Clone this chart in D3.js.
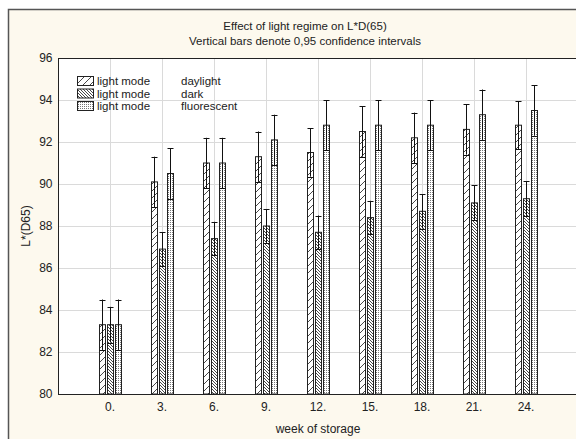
<!DOCTYPE html>
<html>
<head>
<meta charset="utf-8">
<script src="https://cdn.jsdelivr.net/npm/d3@7"></script>
<style>
  body { margin: 0; background: #fff; }
  svg { display: block; font-family: "Liberation Sans", Arial, sans-serif; }
</style>
</head>
<body>
<svg id="chart" width="576" height="439"></svg>
<script>
// week labels and light modes
const weeks = ["0.", "3.", "6.", "9.", "12.", "15.", "18.", "21.", "24."];
const modes = ["daylight", "dark", "fluorescent"];

// means
const daylightMean    = [83.3, 90.1, 91.0, 91.3, 91.5, 92.5, 92.2, 92.6, 92.8];
const darkMean        = [83.3, 86.9, 87.4, 88.0, 87.7, 88.4, 88.7, 89.1, 89.3];
const fluorescentMean = [83.3, 90.5, 91.0, 92.1, 92.8, 92.8, 92.8, 93.3, 93.5];

// half width of the 0,95 confidence interval
const daylightCI    = [1.2, 1.2, 1.2, 1.2, 1.15, 1.2, 1.2, 1.2, 1.15];
const darkCI        = [0.85, 0.8, 0.8, 0.8, 0.8, 0.8, 0.82, 0.83, 0.82];
const fluorescentCI = [1.2, 1.2, 1.2, 1.2, 1.2, 1.2, 1.2, 1.2, 1.2];

const yTicks = [80, 82, 84, 86, 88, 90, 92, 94, 96];

const means = { daylight: daylightMean, dark: darkMean, fluorescent: fluorescentMean };
const cis = { daylight: daylightCI, dark: darkCI, fluorescent: fluorescentCI };

const svg = d3.select("#chart");
const W = 576, H = 439;
const plot = { left: 58, top: 58, right: 578, bottom: 394 };

// patterns
const defs = svg.append("defs");
const pDay = defs.append("pattern").attr("id", "p-daylight")
  .attr("patternUnits", "userSpaceOnUse").attr("width", 7).attr("height", 7);
pDay.append("rect").attr("width", 7).attr("height", 7).attr("fill", "#fff");
pDay.append("path").attr("d", "M0,7L7,0M-1,1L1,-1M6,8L8,6")
  .attr("stroke", "#333").attr("stroke-width", 0.9);

const pDark = defs.append("pattern").attr("id", "p-dark")
  .attr("patternUnits", "userSpaceOnUse").attr("width", 3).attr("height", 3);
pDark.append("rect").attr("width", 3).attr("height", 3).attr("fill", "#fff");
pDark.append("path").attr("d", "M0,0L3,3M-1,2L1,4M2,-1L4,1")
  .attr("stroke", "#333").attr("stroke-width", 0.9);

const pFl = defs.append("pattern").attr("id", "p-fluorescent")
  .attr("patternUnits", "userSpaceOnUse").attr("width", 2).attr("height", 2);
pFl.append("rect").attr("width", 2).attr("height", 2).attr("fill", "#fff");
pFl.append("rect").attr("width", 1).attr("height", 1).attr("fill", "#777");

// background and frame
svg.append("rect").attr("x", 8).attr("y", 9).attr("width", W).attr("height", H)
  .attr("fill", "#fdf9ee");
svg.append("path").attr("d", `M8.5,${H}V9.5H${W}`)
  .attr("fill", "none").attr("stroke", "#555").attr("stroke-width", 1.5);

svg.append("rect")
  .attr("x", plot.left).attr("y", plot.top)
  .attr("width", plot.right - plot.left).attr("height", plot.bottom - plot.top)
  .attr("fill", "#fff");

const x = d3.scaleBand().domain(weeks).range([plot.left, plot.right]).paddingOuter(0.5);
const xm = d3.scaleBand().domain(modes).range([-11, 11]).paddingInner(0.22);
const y = d3.scaleLinear().domain([80, 96]).range([plot.bottom, plot.top]);

// grid
svg.append("g").selectAll("line").data(yTicks.slice(1, -1)).join("line")
  .attr("x1", plot.left).attr("x2", plot.right)
  .attr("y1", d => Math.round(y(d)) + 0.5).attr("y2", d => Math.round(y(d)) + 0.5)
  .attr("stroke", "#dadada");
svg.append("g").selectAll("line").data(weeks).join("line")
  .attr("x1", d => Math.round(x(d) + x.bandwidth() / 2) + 0.5)
  .attr("x2", d => Math.round(x(d) + x.bandwidth() / 2) + 0.5)
  .attr("y1", plot.top).attr("y2", plot.bottom)
  .attr("stroke", "#dadada");

// bars
const rows = [];
weeks.forEach((w, i) => modes.forEach(m => rows.push({ w, m, v: means[m][i], ci: cis[m][i] })));

const bx = d => Math.round(x(d.w) + x.bandwidth() / 2 + xm(d.m)) + 0.5;
const bw = Math.round(xm.bandwidth());

svg.append("g").selectAll("rect").data(rows).join("rect")
  .attr("x", bx)
  .attr("y", d => y(d.v))
  .attr("width", bw)
  .attr("height", d => plot.bottom - y(d.v))
  .attr("fill", d => `url(#p-${d.m})`)
  .attr("stroke", "#222").attr("stroke-width", 1);

// error bars
const eb = svg.append("g").attr("stroke", "#111").attr("stroke-width", 1);
eb.selectAll(".whisk").data(rows).join("line")
  .attr("x1", d => bx(d) + bw / 2).attr("x2", d => bx(d) + bw / 2)
  .attr("y1", d => y(d.v - d.ci)).attr("y2", d => y(d.v + d.ci));
eb.selectAll(".capT").data(rows).join("line")
  .attr("x1", d => bx(d) + bw / 2 - 3).attr("x2", d => bx(d) + bw / 2 + 3)
  .attr("y1", d => Math.round(y(d.v + d.ci)) + 0.5).attr("y2", d => Math.round(y(d.v + d.ci)) + 0.5);
eb.selectAll(".capB").data(rows).join("line")
  .attr("x1", d => bx(d) + bw / 2 - 3).attr("x2", d => bx(d) + bw / 2 + 3)
  .attr("y1", d => Math.round(y(d.v - d.ci)) + 0.5).attr("y2", d => Math.round(y(d.v - d.ci)) + 0.5);

// plot frame
svg.append("rect")
  .attr("x", plot.left + 0.5).attr("y", plot.top + 0.5)
  .attr("width", plot.right - plot.left).attr("height", plot.bottom - plot.top)
  .attr("fill", "none").attr("stroke", "#222");

// axes
const yAxis = svg.append("g").attr("transform", `translate(${plot.left + 0.5},0)`)
  .call(d3.axisLeft(y).tickValues(yTicks).tickSize(0).tickPadding(6));
yAxis.select(".domain").remove();
yAxis.selectAll("text").attr("font-size", 12).attr("fill", "#222")
  .attr("font-family", "Liberation Sans, Arial, sans-serif");

const xAxis = svg.append("g").attr("transform", `translate(0,${plot.bottom + 0.5})`)
  .call(d3.axisBottom(x).tickSize(0).tickPadding(8));
xAxis.select(".domain").remove();
xAxis.selectAll("text").attr("font-size", 12).attr("fill", "#222")
  .attr("font-family", "Liberation Sans, Arial, sans-serif");

// titles
const title = svg.append("g").attr("text-anchor", "middle").attr("fill", "#222").attr("font-size", 11.5);
title.append("text").attr("x", 305).attr("y", 30).text("Effect of light regime on L*D(65)");
title.append("text").attr("x", 305).attr("y", 45).text("Vertical bars denote 0,95 confidence intervals");

svg.append("text").attr("x", (plot.left + plot.right) / 2).attr("y", 433)
  .attr("text-anchor", "middle").attr("font-size", 12).attr("fill", "#222")
  .text("week of storage");

svg.append("text")
  .attr("transform", `translate(30,${(plot.top + plot.bottom) / 2}) rotate(-90)`)
  .attr("text-anchor", "middle").attr("font-size", 12).attr("fill", "#222")
  .text("L*(D65)");

// legend
const legend = svg.append("g").attr("font-size", 11.5).attr("fill", "#222");
modes.forEach((m, i) => {
  const ly = 75 + i * 12.5;
  legend.append("rect").attr("x", 77.5).attr("y", ly + 1.5).attr("width", 16).attr("height", 9)
    .attr("fill", `url(#p-${m})`).attr("stroke", "#222");
  legend.append("text").attr("x", 97).attr("y", ly + 10).text("light mode");
  legend.append("text").attr("x", 181).attr("y", ly + 10).text(m);
});
</script>
</body>
</html>
